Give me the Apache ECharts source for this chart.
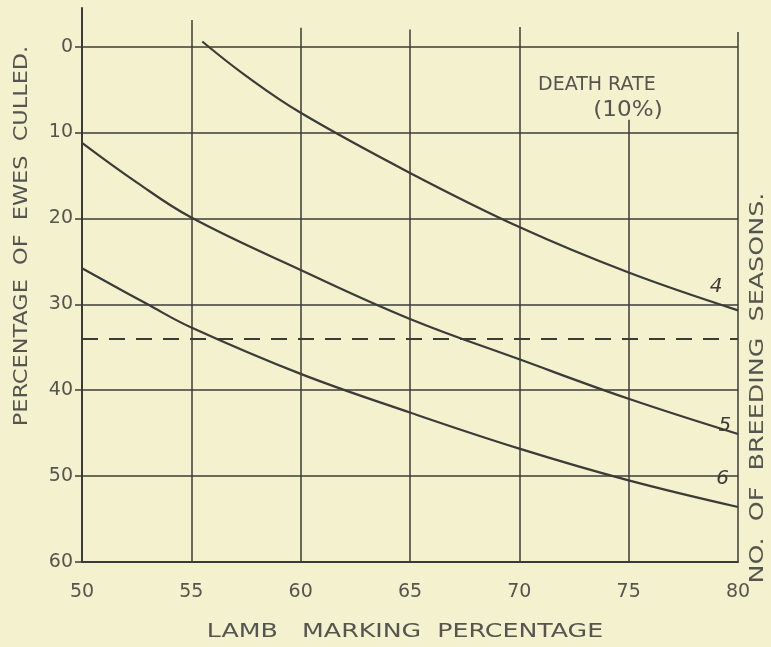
<!DOCTYPE html>
<html>
<head>
<meta charset="utf-8">
<title>Ewes culled vs lamb marking</title>
<script src="https://cdn.jsdelivr.net/npm/echarts@6/dist/echarts.min.js"></script>
<style>
  html, body { margin: 0; padding: 0; background: #f4f1cf; }
  #chart { width: 771px; height: 647px; }
</style>
</head>
<body>
<div id="chart"></div>
<script>
// data
var xTicks = [50, 55, 60, 65, 70, 75, 80];
var yTicks = [0, 10, 20, 30, 40, 50, 60];
var seasons = ['4', '5', '6'];
var curve4 = [[55.5, -0.6], [57.5, 3.4], [60, 7.7], [65, 14.7], [70, 21], [75, 26.3], [80, 30.7]];
var curve5 = [[50, 11.2], [52.5, 15.8], [55, 19.9], [60, 26], [65, 31.7], [70, 36.4], [75, 41], [80, 45.1]];
var curve6 = [[50, 25.8], [53, 30], [55, 32.7], [60, 38.1], [65, 42.6], [70, 46.8], [75, 50.5], [80, 53.6]];
var cutOff = 34;

var ink = '#3b3b38';
var txt = '#55554f';
var font = 'DejaVu Sans';

// where each vertical rule starts at the top (75 stops under the title)
var ruleTop = [-4.4, -3.1, -2.2, -2.0, -2.3, 8.5, -1.7];

var rules = [];
xTicks.forEach(function (x, i) {
    rules.push([{ xAxis: x, yAxis: ruleTop[i] }, { xAxis: x, yAxis: 60 }]);
});
yTicks.forEach(function (y) {
    rules.push([{ xAxis: 50, yAxis: y }, { xAxis: 80, yAxis: y }]);
});

function curve(data, label, pos) {
    return {
        type: 'line',
        data: data,
        smooth: 0.4,
        showSymbol: false,
        silent: true,
        lineStyle: { color: ink, width: 2.2 },
        markPoint: {
            symbol: 'circle', symbolSize: 0, silent: true,
            label: {
                show: true, formatter: label, color: ink,
                fontFamily: font, fontSize: 20, fontStyle: 'italic'
            },
            data: [{ coord: pos }]
        }
    };
}

var chart = echarts.init(document.getElementById('chart'));
var option = {
    backgroundColor: '#f4f1cf',
    animation: false,
    grid: { left: 82, right: 33, top: 8, bottom: 85 },
    xAxis: {
        type: 'value', min: 50, max: 80, interval: 5,
        axisLine: { show: true, onZero: false, lineStyle: { color: ink, width: 2 } },
        axisTick: { show: false },
        splitLine: { show: false },
        axisLabel: { color: txt, fontFamily: font, fontSize: 19, margin: 21 }
    },
    yAxis: {
        type: 'value', inverse: true, min: -4.5, max: 60,
        axisLine: { show: true, lineStyle: { color: ink, width: 2 } },
        axisTick: { show: true, customValues: yTicks, length: 7, lineStyle: { color: ink, width: 1.5 } },
        splitLine: { show: false },
        axisLabel: { customValues: yTicks, color: txt, fontFamily: font, fontSize: 19, margin: 9 }
    },
    series: [
        Object.assign(curve(curve4, seasons[0], [79.0, 28.0]), {
            markLine: {
                silent: true, symbol: 'none', label: { show: false },
                lineStyle: { color: ink, width: 1.5, type: 'solid' },
                data: rules.concat([[
                    { xAxis: 50, yAxis: cutOff, lineStyle: { type: [16, 11], width: 1.8 } },
                    { xAxis: 80, yAxis: cutOff }
                ]])
            }
        }),
        curve(curve5, seasons[1], [79.4, 44.2]),
        curve(curve6, seasons[2], [79.3, 50.3])
    ],
    graphic: [
        { type: 'text', left: 538, top: 76, style: { text: 'DEATH RATE', fill: txt, font: '19px ' + font } },
        {
            type: 'text', x: 628, y: 110, scaleX: 1.05,
            style: { text: '(10%)', fill: txt, font: '22px ' + font, align: 'center', verticalAlign: 'middle' }
        },
        {
            type: 'text', x: 22, y: 236, rotation: Math.PI / 2, scaleX: 1.12,
            style: { text: 'PERCENTAGE  OF  EWES  CULLED.', fill: txt, font: '20px ' + font, align: 'center', verticalAlign: 'middle' }
        },
        {
            type: 'text', x: 758, y: 388, rotation: Math.PI / 2, scaleX: 1.27,
            style: { text: 'NO.  OF  BREEDING  SEASONS.', fill: txt, font: '20px ' + font, align: 'center', verticalAlign: 'middle' }
        },
        {
            type: 'text', x: 405, y: 632, scaleX: 1.33,
            style: { text: 'LAMB   MARKING  PERCENTAGE', fill: txt, font: '19px ' + font, align: 'center', verticalAlign: 'middle' }
        }
    ]
};
chart.setOption(option);
</script>
</body>
</html>
